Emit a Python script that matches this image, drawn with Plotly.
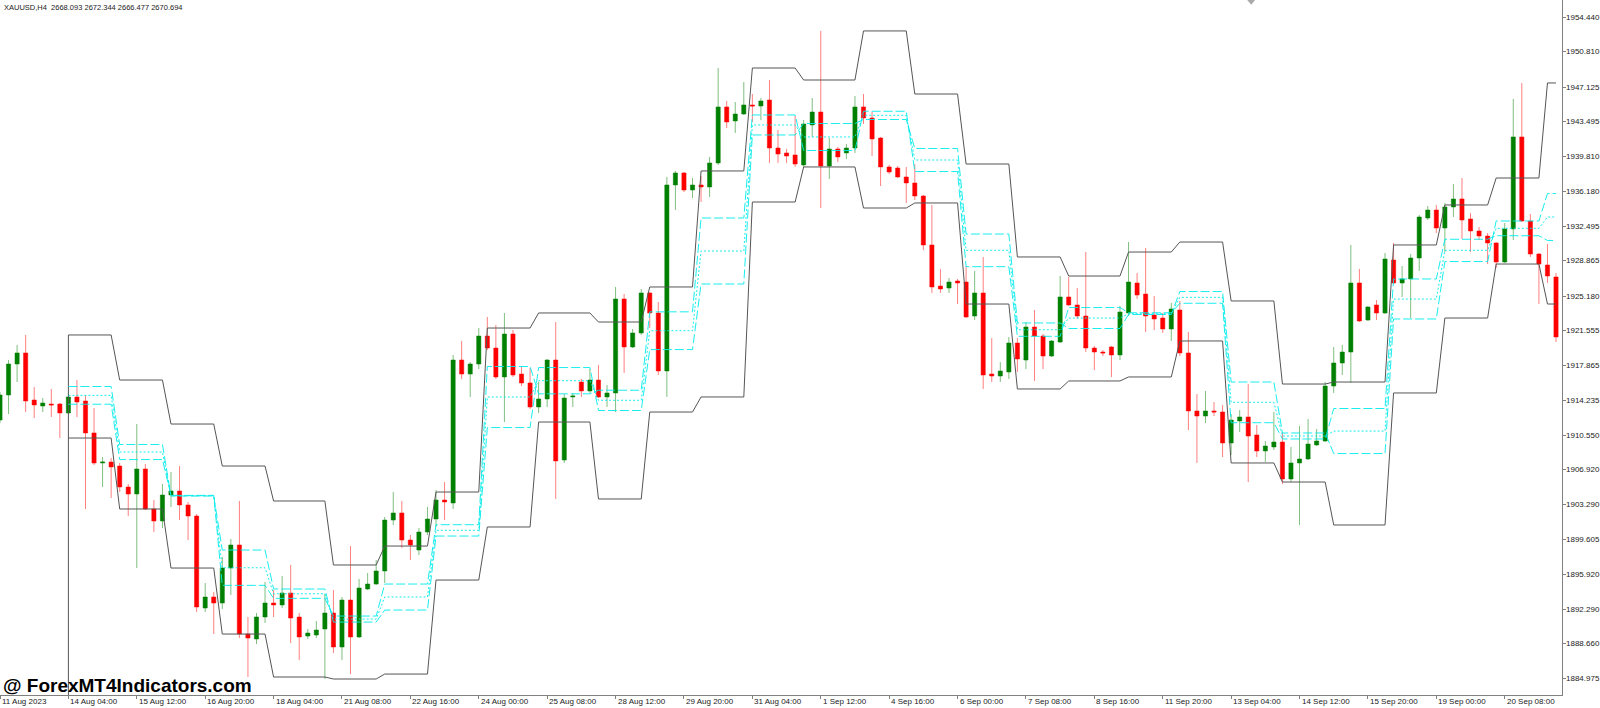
import plotly.graph_objects as go

# XAUUSD H4 candles, bar index 0..182
opens = [
    1912.16, 1914.79, 1918.04, 1919.20, 1914.26, 1913.63, 1913.84, 1913.84, 1912.90, 1914.58,
    1914.16, 1910.80, 1907.65, 1907.75, 1907.33, 1905.13, 1904.39, 1907.02, 1902.82, 1901.56,
    1904.29, 1904.71, 1903.24, 1902.08, 1892.42, 1893.58, 1892.95, 1896.62, 1899.04, 1889.69,
    1889.17, 1891.48, 1892.95, 1892.74, 1894.00, 1891.48, 1889.48, 1889.59, 1890.22, 1891.90,
    1888.33, 1893.26, 1889.38, 1894.42, 1894.94, 1896.31, 1901.66, 1902.40, 1899.56, 1898.51,
    1900.40, 1901.77, 1903.76, 1903.45, 1918.46, 1916.99, 1918.04, 1920.98, 1919.72, 1916.68,
    1921.19, 1916.99, 1916.05, 1913.53, 1914.37, 1918.46, 1907.96, 1914.58, 1916.15, 1915.21,
    1916.36, 1914.58, 1915.00, 1924.87, 1919.83, 1921.30, 1925.50, 1923.40, 1917.31, 1936.84,
    1938.10, 1936.31, 1936.84, 1936.63, 1939.15, 1945.03, 1943.56, 1944.29, 1945.24, 1945.13,
    1945.76, 1940.72, 1940.20, 1939.99, 1938.94, 1943.14, 1944.50, 1938.83, 1940.62, 1940.20,
    1940.72, 1945.03, 1943.87, 1941.77, 1938.73, 1938.62, 1937.68, 1937.05, 1935.68, 1930.54,
    1926.23, 1926.02, 1926.76, 1926.65, 1923.08, 1925.50, 1916.99, 1916.78, 1917.20, 1920.25,
    1918.46, 1921.93, 1920.98, 1918.88, 1920.35, 1925.08, 1924.24, 1923.08, 1919.72, 1919.30,
    1919.83, 1918.99, 1923.40, 1926.55, 1925.39, 1923.19, 1922.87, 1921.72, 1923.71, 1919.20,
    1913.11, 1912.58, 1913.11, 1913.00, 1909.75, 1912.06, 1912.48, 1910.59, 1908.91, 1909.33,
    1909.85, 1905.97, 1907.65, 1908.07, 1909.54, 1909.96, 1915.73, 1918.15, 1919.30, 1926.55,
    1922.66, 1924.24, 1923.40, 1928.96, 1926.55, 1926.97, 1929.17, 1933.37, 1934.21, 1932.32,
    1934.53, 1935.37, 1933.27, 1932.01, 1931.48, 1930.75, 1928.75, 1932.22, 1941.88, 1933.06,
    1929.59, 1928.44, 1927.18,
]
highs = [
    1915.10, 1918.46, 1920.04, 1921.09, 1915.63, 1914.47, 1915.42, 1913.95, 1915.00, 1916.36,
    1914.79, 1913.42, 1908.28, 1908.17, 1907.65, 1905.44, 1911.74, 1907.54, 1903.76, 1905.44,
    1906.70, 1907.33, 1903.55, 1902.29, 1895.05, 1894.10, 1897.78, 1899.67, 1903.66, 1891.48,
    1891.90, 1895.15, 1894.31, 1895.78, 1896.94, 1891.90, 1890.22, 1891.06, 1893.89, 1894.31,
    1893.58, 1898.93, 1895.47, 1896.10, 1897.46, 1901.98, 1904.60, 1903.66, 1900.09, 1900.82,
    1903.03, 1904.81, 1905.65, 1918.99, 1920.46, 1918.25, 1921.82, 1922.98, 1922.14, 1923.40,
    1921.61, 1917.73, 1917.62, 1916.15, 1918.57, 1922.45, 1914.89, 1915.00, 1916.47, 1917.52,
    1917.94, 1915.84, 1926.13, 1925.39, 1921.72, 1925.92, 1925.60, 1924.55, 1937.68, 1938.31,
    1938.20, 1937.57, 1937.78, 1939.78, 1949.12, 1945.66, 1945.55, 1947.65, 1946.39, 1945.97,
    1947.86, 1942.61, 1940.62, 1944.08, 1943.66, 1945.97, 1953.01, 1941.77, 1940.83, 1941.14,
    1946.18, 1946.39, 1944.50, 1941.88, 1938.94, 1938.83, 1938.73, 1939.04, 1935.79, 1934.74,
    1928.02, 1927.07, 1926.97, 1928.33, 1927.81, 1929.28, 1920.77, 1918.25, 1920.88, 1920.77,
    1922.45, 1923.71, 1921.19, 1920.56, 1927.28, 1927.18, 1926.02, 1929.80, 1919.93, 1919.51,
    1919.93, 1924.13, 1930.85, 1927.60, 1930.22, 1925.18, 1923.40, 1924.45, 1924.66, 1921.40,
    1914.89, 1915.21, 1914.05, 1913.74, 1912.79, 1913.21, 1915.94, 1911.64, 1909.96, 1913.00,
    1910.80, 1909.33, 1911.53, 1912.27, 1911.22, 1916.15, 1919.83, 1920.04, 1930.54, 1928.02,
    1924.13, 1924.76, 1929.70, 1930.75, 1928.33, 1929.59, 1933.69, 1934.63, 1934.74, 1934.95,
    1936.94, 1937.57, 1933.90, 1932.43, 1931.80, 1930.85, 1932.85, 1945.87, 1947.55, 1933.79,
    1929.70, 1930.64, 1927.60,
]
lows = [
    1911.85, 1912.79, 1916.15, 1913.00, 1912.37, 1913.00, 1912.48, 1910.27, 1912.79, 1912.48,
    1902.82, 1907.44, 1905.13, 1903.97, 1904.60, 1902.08, 1896.62, 1902.71, 1900.40, 1900.82,
    1903.03, 1901.66, 1899.56, 1892.00, 1892.00, 1889.69, 1892.32, 1893.79, 1889.27, 1885.18,
    1888.64, 1890.85, 1891.48, 1892.42, 1888.75, 1886.96, 1889.17, 1889.27, 1884.97, 1887.70,
    1886.96, 1885.49, 1889.27, 1894.31, 1894.84, 1895.05, 1901.14, 1898.72, 1897.46, 1897.99,
    1900.09, 1900.93, 1901.66, 1902.82, 1916.47, 1914.58, 1917.52, 1919.51, 1916.47, 1911.95,
    1916.68, 1915.73, 1913.32, 1912.90, 1913.53, 1903.87, 1907.65, 1913.53, 1914.58, 1915.00,
    1914.47, 1913.53, 1913.00, 1917.10, 1919.72, 1921.09, 1921.82, 1916.89, 1914.58, 1934.21,
    1936.10, 1935.47, 1935.05, 1935.58, 1938.94, 1942.82, 1942.30, 1944.19, 1943.45, 1943.66,
    1939.15, 1939.15, 1939.15, 1938.73, 1938.73, 1941.88, 1934.42, 1937.47, 1939.25, 1939.57,
    1940.20, 1943.24, 1939.88, 1936.73, 1937.99, 1937.57, 1934.95, 1935.26, 1930.01, 1925.50,
    1925.50, 1925.50, 1924.34, 1922.87, 1922.66, 1915.42, 1916.15, 1916.15, 1916.47, 1917.20,
    1917.52, 1916.26, 1917.52, 1918.78, 1920.25, 1924.13, 1922.77, 1919.30, 1917.41, 1918.88,
    1916.68, 1918.46, 1923.08, 1924.87, 1921.40, 1921.61, 1921.30, 1920.46, 1918.88, 1911.11,
    1907.65, 1911.85, 1912.58, 1908.28, 1908.49, 1910.90, 1905.65, 1908.28, 1907.75, 1909.01,
    1905.44, 1905.65, 1901.14, 1907.96, 1909.43, 1909.85, 1915.00, 1916.89, 1916.05, 1922.45,
    1922.56, 1922.66, 1923.29, 1926.44, 1925.08, 1922.87, 1927.81, 1933.16, 1931.80, 1929.80,
    1933.48, 1931.17, 1929.80, 1931.06, 1928.54, 1928.12, 1928.64, 1931.06, 1932.95, 1929.28,
    1924.34, 1926.55, 1920.35,
]
closes = [
    1914.79, 1918.04, 1919.20, 1914.16, 1913.74, 1913.95, 1913.74, 1912.90, 1914.58, 1914.05,
    1910.80, 1907.65, 1907.75, 1907.23, 1905.13, 1904.39, 1907.02, 1902.82, 1901.56, 1904.29,
    1904.71, 1903.24, 1902.08, 1892.53, 1893.58, 1892.95, 1896.62, 1899.04, 1889.69, 1889.27,
    1891.48, 1892.95, 1892.74, 1894.00, 1891.37, 1889.38, 1889.80, 1890.11, 1891.90, 1888.33,
    1893.26, 1889.38, 1894.52, 1894.94, 1896.31, 1901.66, 1902.40, 1899.56, 1899.04, 1900.40,
    1901.77, 1903.76, 1903.55, 1918.46, 1916.99, 1918.04, 1920.98, 1919.72, 1916.68, 1921.19,
    1916.89, 1916.05, 1913.53, 1914.37, 1918.46, 1907.86, 1914.47, 1914.68, 1915.21, 1916.36,
    1914.58, 1915.00, 1924.87, 1919.83, 1921.30, 1925.50, 1923.40, 1917.31, 1936.84, 1938.10,
    1936.31, 1936.84, 1936.63, 1939.15, 1945.03, 1943.45, 1944.29, 1945.24, 1945.13, 1945.66,
    1940.72, 1940.09, 1939.88, 1939.04, 1943.24, 1944.50, 1938.83, 1940.62, 1939.78, 1940.72,
    1945.03, 1943.87, 1941.67, 1938.73, 1938.20, 1937.68, 1937.05, 1935.68, 1930.54, 1926.13,
    1925.92, 1926.65, 1926.55, 1922.98, 1925.50, 1916.89, 1916.78, 1917.31, 1920.25, 1918.57,
    1921.93, 1920.98, 1918.88, 1920.46, 1925.08, 1924.24, 1923.08, 1919.72, 1919.30, 1919.20,
    1918.99, 1923.50, 1926.65, 1925.29, 1923.08, 1922.77, 1921.72, 1923.82, 1919.20, 1913.11,
    1912.58, 1913.11, 1913.00, 1909.75, 1912.16, 1912.48, 1910.48, 1908.91, 1909.43, 1909.85,
    1905.97, 1907.65, 1908.07, 1909.64, 1909.96, 1915.73, 1918.15, 1919.30, 1926.55, 1922.56,
    1924.03, 1923.40, 1929.07, 1926.55, 1926.97, 1929.17, 1933.48, 1934.21, 1932.32, 1934.53,
    1935.37, 1933.16, 1932.01, 1931.48, 1930.75, 1928.75, 1932.22, 1941.88, 1933.06, 1929.59,
    1928.54, 1927.28, 1920.88,
]

# daily levels: first bar of each day and the level drawn over that day
day_start = [8, 14, 20, 26, 32, 39, 45, 51, 57, 63, 70, 76, 82, 88, 94,
             101, 107, 113, 119, 125, 132, 138, 144, 150, 156, 163, 169, 175, 181]
prev_high = [1921.09, 1916.36, 1911.74, 1907.33, 1903.66, 1896.94, 1898.93, 1904.60,
             1921.82, 1923.40, 1922.45, 1926.13, 1938.31, 1949.12, 1947.86, 1953.01,
             1946.39, 1939.04, 1929.28, 1927.28, 1929.80, 1930.85, 1924.66, 1915.94,
             1916.15, 1930.54, 1934.74, 1937.57, 1947.55]
prev_low = [1910.27, 1902.82, 1896.62, 1889.69, 1885.18, 1884.97, 1885.49, 1895.36,
            1900.93, 1911.95, 1903.87, 1913.00, 1914.58, 1935.05, 1938.73, 1934.42,
            1934.95, 1924.34, 1915.42, 1916.26, 1916.68, 1920.46, 1907.65, 1905.65,
            1901.14, 1915.00, 1922.87, 1928.54, 1924.34]
cpr_bc = [1915.68, 1909.59, 1904.18, 1898.51, 1894.42, 1890.95, 1892.21, 1899.98,
          1911.37, 1917.67, 1913.16, 1919.56, 1926.44, 1942.09, 1943.29, 1943.71,
          1940.67, 1931.69, 1922.35, 1921.77, 1923.24, 1925.65, 1916.15, 1910.80,
          1908.64, 1922.77, 1928.80, 1933.06, 1935.94]
cpr_pivot = [1914.75, 1908.80, 1904.21, 1896.65, 1893.92, 1891.26, 1893.58, 1900.58,
             1914.58, 1916.29, 1914.23, 1921.54, 1929.90, 1943.14, 1941.88, 1944.15,
             1939.46, 1929.98, 1921.64, 1922.87, 1923.32, 1925.04, 1914.02, 1910.48,
             1911.00, 1924.86, 1929.98, 1932.29, 1933.48]
cpr_tc = [1913.82, 1908.01, 1904.25, 1894.80, 1893.44, 1891.58, 1894.94, 1901.17,
          1917.78, 1914.91, 1915.29, 1923.52, 1933.37, 1944.19, 1940.46, 1944.58,
          1938.25, 1928.26, 1920.95, 1923.97, 1923.42, 1924.42, 1911.88, 1910.17,
          1913.37, 1926.97, 1931.14, 1931.51, 1931.01]

x_tick_text = ["11 Aug 2023", "14 Aug 04:00", "15 Aug 12:00", "16 Aug 20:00",
               "18 Aug 04:00", "21 Aug 08:00", "22 Aug 16:00", "24 Aug 00:00",
               "25 Aug 08:00", "28 Aug 12:00", "29 Aug 20:00", "31 Aug 04:00",
               "1 Sep 12:00", "4 Sep 16:00", "6 Sep 00:00", "7 Sep 08:00",
               "8 Sep 16:00", "11 Sep 20:00", "13 Sep 04:00", "14 Sep 12:00",
               "15 Sep 20:00", "19 Sep 00:00", "20 Sep 08:00"]
x_tick_every = 8
y_tick_vals = [1954.440, 1950.810, 1947.125, 1943.495, 1939.810, 1936.180, 1932.495,
               1928.865, 1925.180, 1921.555, 1917.865, 1914.235, 1910.550, 1906.920,
               1903.290, 1899.605, 1895.920, 1892.290, 1888.660, 1884.975]

Y_LO, Y_HI = 1883.29, 1956.26
n_bars = len(opens)
bars = list(range(n_bars))
x_ticks = [i * x_tick_every for i in range(len(x_tick_text))]


def daily_line(levels):
    xs, ys = [], []
    ends = day_start[1:] + [n_bars]
    for a, b, v in zip(day_start, ends, levels):
        for i in range(a, b):
            xs.append(i)
            ys.append(v)
    return xs, ys


fig = go.Figure()

fig.add_trace(go.Candlestick(
    x=bars, open=opens, high=highs, low=lows, close=closes,
    increasing=dict(fillcolor="#008000", line=dict(color="rgba(0,128,0,0.5)", width=1)),
    decreasing=dict(fillcolor="#ff0000", line=dict(color="rgba(255,0,0,0.5)", width=1)),
    whiskerwidth=0, hoverinfo="skip", showlegend=False,
))

black = "#555555"
cyan = "rgba(0,235,235,0.9)"
for lv in (prev_high, prev_low):
    xs, ys = daily_line(lv)
    fig.add_trace(go.Scatter(x=xs, y=ys, mode="lines", line=dict(color=black, width=1),
                             hoverinfo="skip", showlegend=False))
# start marker of the indicator
fig.add_trace(go.Scatter(x=[day_start[0], day_start[0]], y=[prev_high[0], Y_LO],
                         mode="lines", line=dict(color=black, width=1),
                         hoverinfo="skip", showlegend=False))

for lv, dash in ((cpr_bc, "9px,3px"), (cpr_pivot, "2px,2px"), (cpr_tc, "9px,3px")):
    xs, ys = daily_line(lv)
    fig.add_trace(go.Scatter(x=xs, y=ys, mode="lines", line=dict(color=cyan, width=1, dash=dash),
                             hoverinfo="skip", showlegend=False))

fig.update_layout(
    width=1600, height=708,
    margin=dict(l=0, r=38, t=0, b=13, autoexpand=False),
    paper_bgcolor="white", plot_bgcolor="white",
    font=dict(family="Liberation Sans, Arial, sans-serif", color="#222222"),
    xaxis=dict(
        range=[0, 182.7], rangeslider=dict(visible=False), automargin=False,
        tickvals=x_ticks, showticklabels=False,
        showgrid=False, zeroline=False, showline=True, linecolor="#808080", linewidth=1,
        ticks="outside", ticklen=3, tickcolor="#808080",
    ),
    yaxis=dict(
        range=[Y_LO, Y_HI], side="right", automargin=False,
        tickvals=y_tick_vals, showticklabels=False,
        showgrid=False, zeroline=False, showline=True, linecolor="#808080", linewidth=1,
        ticks="outside", ticklen=3, tickcolor="#808080",
    ),
)

# time labels start at their tick, as in the terminal
for xv, txt in zip(x_ticks, x_tick_text):
    fig.add_annotation(text=txt, x=xv, xref="x", y=0, yref="paper",
                       xanchor="left", yanchor="top", xshift=1, yshift=-1,
                       showarrow=False, borderpad=0,
                       font=dict(size=8, color="#222222"))
# price labels to the right of the price scale
for yv in y_tick_vals:
    fig.add_annotation(text=f"{yv:.3f}", x=1, xref="paper", y=yv, yref="y",
                       xanchor="left", yanchor="middle", xshift=3,
                       showarrow=False, borderpad=0,
                       font=dict(size=8, color="#222222"))

fig.add_annotation(text="XAUUSD,H4  2668.093 2672.344 2666.477 2670.694",
                   xref="paper", yref="paper", x=0, y=1, xanchor="left", yanchor="top",
                   xshift=2, yshift=-1, showarrow=False,
                   font=dict(size=7.5, color="#222222"))
fig.add_annotation(text="<b>@ ForexMT4Indicators.com</b>",
                   xref="paper", yref="paper", x=0, y=0, xanchor="left", yanchor="middle",
                   xshift=1, yshift=10, showarrow=False,
                   font=dict(size=19, color="black", family="Liberation Sans, Arial, sans-serif"))
# chart shift marker at top
fig.add_shape(type="path", xref="paper", yref="paper",
              path="M 0.7985 1 L 0.8035 1 L 0.801 0.993 Z",
              fillcolor="#aaaaaa", line=dict(width=0))

# page without the default body margin so the chart sits at the window origin
fig.write_html("out.html", config={"displayModeBar": False},
               post_script="document.body.style.margin='0';document.body.style.overflow='hidden';")
